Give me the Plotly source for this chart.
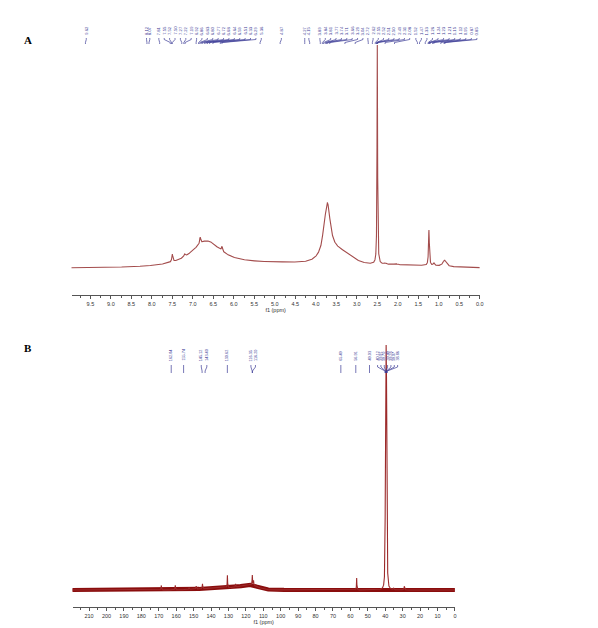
import numpy as np
import plotly.graph_objects as go

# ---------------- DATA ----------------
# Panel A (1H NMR) sharp peaks: position (ppm), height, half-width
A_SHARP_PPM = [7.50, 7.20, 6.82, 6.29, 3.81, 2.50, 2.31, 2.05, 1.24, 1.12, 0.86]
A_SHARP_H = [0.035, 0.012, 0.030, 0.020, 0.030, 0.990, 0.005, 0.005, 0.160, 0.012, 0.028]
A_SHARP_W = [0.015, 0.02, 0.015, 0.015, 0.02, 0.008, 0.03, 0.03, 0.012, 0.02, 0.05]
# Panel A broad Gaussian components: centre, height, sigma
A_BROAD_PPM = [4.8, 3.45, 2.0]
A_BROAD_H = [0.020, 0.055, 0.012]
A_BROAD_W = [1.3, 0.30, 1.0]
# Panel A broad Lorentzian components: centre, height, half-width
A_MAIN_PPM = [6.67, 3.72]
A_MAIN_H = [0.115, 0.235]
A_MAIN_W = [0.45, 0.09]

# Panel B (13C NMR)
B_SHARP_PPM = [168.5, 160.5, 152.6, 148.5, 144.9, 130.6, 125.9, 116.3, 115.6, 56.4, 35.2, 29.0]
B_SHARP_H = [0.027, 0.027, 0.010, 0.018, 0.030, 0.075, 0.020, 0.060, 0.030, 0.072, 0.008, 0.022]
B_SHARP_W = [0.15, 0.15, 0.2, 0.2, 0.15, 0.12, 0.15, 0.15, 0.15, 0.12, 0.2, 0.2]
B_DMSO_PPM = [40.12, 39.91, 39.70, 39.49, 39.28, 39.07, 38.86]
B_DMSO_H = [0.14, 0.42, 0.84, 0.98, 0.84, 0.42, 0.14]
B_DMSO_W = [0.12] * 7
B_BROAD_PPM = [118.0, 132.0]
B_BROAD_H = [0.016, 0.009]
B_BROAD_W = [4.5, 12.0]

# Peak labels (ppm values)
A_LABELS = [
    [9.62],
    [8.12, 8.07],
    [7.81, 7.55, 7.52, 7.50, 7.27, 7.22, 7.19, 6.92, 6.86, 6.83, 6.80, 6.77, 6.72, 6.68, 6.64, 6.59, 6.51, 6.33, 6.29, 5.36],
    [4.87],
    [4.27, 4.15],
    [3.89, 3.84, 3.81, 3.77, 3.74, 3.71, 3.66, 3.29, 3.04],
    [2.72, 2.62, 2.55, 2.52, 2.51, 2.50, 2.49, 2.31, 2.08],
    [1.52, 1.47, 1.33, 1.26, 1.24, 1.23, 1.21, 1.15, 1.12, 0.95, 0.87, 0.85],
]
B_LABELS = [
    [162.84],
    [155.74],
    [145.12, 143.40],
    [130.62],
    [116.35, 116.20],
    [65.49],
    [56.91],
    [49.03],
    [40.12, 39.91, 39.70, 39.49, 39.28, 39.07, 38.86],
]

A_TICKS = [9.5, 9.0, 8.5, 8.0, 7.5, 7.0, 6.5, 6.0, 5.5, 5.0, 4.5, 4.0, 3.5, 3.0, 2.5, 2.0, 1.5, 1.0, 0.5, 0.0]
B_TICKS = [210, 200, 190, 180, 170, 160, 150, 140, 130, 120, 110, 100, 90, 80, 70, 60, 50, 40, 30, 20, 10, 0]

# ---------------- LAYOUT ----------------
W, H = 598, 628
A_LABEL_SPANS = [(9.60, 9.60), (8.13, 8.05), (7.83, 5.33), (4.84, 4.84), (4.27, 4.17),
                 (3.90, 2.85), (2.73, 1.71), (1.56, 0.07)]
B_LABEL_SPANS = [(162.84, 162.84), (155.74, 155.74), (145.6, 142.4), (130.62, 130.62),
                 (117.1, 114.5), (65.49, 65.49), (56.91, 56.91), (49.03, 49.03), (44.4, 32.9)]


def lor(x, c, h, w):
    return h / (1 + ((x - c) / w) ** 2)


def gau(x, c, h, s):
    return h * np.exp(-0.5 * ((x - c) / s) ** 2)


xa = np.linspace(10, 0, 8001)
ya = np.zeros_like(xa)
for c, h, w in zip(A_BROAD_PPM, A_BROAD_H, A_BROAD_W):
    ya += gau(xa, c, h, w)
for c, h, w in zip(A_MAIN_PPM, A_MAIN_H, A_MAIN_W):
    ya += lor(xa, c, h, w)
for c, h, w in zip(A_SHARP_PPM, A_SHARP_H, A_SHARP_W):
    ya += lor(xa, c, h, w)

xb = np.linspace(220, 0, 22001)
yb_bg = np.zeros_like(xb)
for c, h, w in zip(B_BROAD_PPM, B_BROAD_H, B_BROAD_W):
    yb_bg += gau(xb, c, h, w)
yb = yb_bg.copy()
for c, h, w in zip(B_SHARP_PPM + B_DMSO_PPM, B_SHARP_H + B_DMSO_H, B_SHARP_W + B_DMSO_W):
    yb += lor(xb, c, h, w)
yb = yb_bg + (yb - yb_bg) * (0.98 / (yb - yb_bg).max())

fig = go.Figure()
fig.add_trace(go.Scatter(x=xa, y=ya, mode="lines", line=dict(color="#a34c4c", width=1.1),
                         xaxis="x", yaxis="y", hoverinfo="skip", showlegend=False))
fig.add_trace(go.Scatter(x=xb, y=yb_bg, mode="lines", line=dict(color="#8a0d0d", width=4.2),
                         xaxis="x2", yaxis="y2", hoverinfo="skip", showlegend=False))
fig.add_trace(go.Scatter(x=xb, y=yb, mode="lines", line=dict(color="#9c2a2a", width=1.1),
                         xaxis="x2", yaxis="y2", hoverinfo="skip", showlegend=False))


def py(ypx):
    return 1 - ypx / H


axis_common = dict(showline=True, linecolor="#555", linewidth=1, ticks="outside", ticklen=3,
                   tickcolor="#555", tickwidth=0.8, showgrid=False, zeroline=False,
                   tickfont=dict(size=5.5, color="#333", family="Liberation Sans"),
                   title_font=dict(size=5.5, color="#333", family="Liberation Sans"),
                   title_standoff=1, fixedrange=True)

fig.update_layout(
    width=W, height=H, margin=dict(l=0, r=0, t=0, b=0),
    paper_bgcolor="white", plot_bgcolor="white",
    xaxis=dict(domain=[72 / W, 483 / W], range=[9.96, 0], anchor="y",
               tickvals=A_TICKS, ticktext=[f"{v:.1f}" for v in A_TICKS],
               minor=dict(tickvals=[v - 0.25 for v in A_TICKS] + [9.75], ticks="outside", ticklen=2, tickcolor="#555"),
               title_text="f1 (ppm)", **axis_common),
    yaxis=dict(domain=[py(295), py(45)], range=[-0.12, 1.0], visible=False, fixedrange=True),
    xaxis2=dict(domain=[73 / W, 458 / W], range=[219.5, 0], anchor="y2",
                tickvals=B_TICKS, ticktext=[str(v) for v in B_TICKS],
                minor=dict(tickvals=[v + 5 for v in B_TICKS], ticks="outside", ticklen=2, tickcolor="#555"),
                title_text="f1 (ppm)", **axis_common),
    yaxis2=dict(domain=[py(607), py(340)], range=[-0.068, 1.0], visible=False, fixedrange=True),
)

annotations = []
shapes = []
LBL_COLOR = "#3c3c96"


def add_labels(groups, spans, xref, text_bottom, c1, c2, c3, fsize, fmt):
    for vals, (s, e) in zip(groups, spans):
        n = len(vals)
        pos = [s] if n == 1 else list(np.linspace(s, e, n))
        for v, p in zip(vals, pos):
            annotations.append(dict(x=p, y=py(text_bottom), xref=xref, yref="paper",
                                    text=fmt.format(v), textangle=-90, showarrow=False,
                                    xanchor="center", yanchor="bottom",
                                    font=dict(size=fsize, color=LBL_COLOR, family="Liberation Sans")))
            path = f"M {p},{py(c1[0])} L {p},{py(c1[1])} L {v},{py(c2)} L {v},{py(c3)}"
            shapes.append(dict(type="path", path=path, xref=xref, yref="paper",
                               line=dict(color=LBL_COLOR, width=0.7)))


add_labels(A_LABELS, A_LABEL_SPANS, "x", 37, (38, 39.5), 42.5, 44, 4.2, "{:.2f}")
add_labels(B_LABELS, B_LABEL_SPANS, "x2", 363, (365, 367), 371, 373, 3.8, "{:.2f}")

annotations.append(dict(x=22 / W, y=py(40), xref="paper", yref="paper", text="<b>A</b>",
                        showarrow=False, xanchor="left", yanchor="middle",
                        font=dict(size=11, color="black", family="Liberation Serif")))
annotations.append(dict(x=22 / W, y=py(348), xref="paper", yref="paper", text="<b>B</b>",
                        showarrow=False, xanchor="left", yanchor="middle",
                        font=dict(size=11, color="black", family="Liberation Serif")))

fig.update_layout(annotations=annotations, shapes=shapes)
fig.write_html("out.html", config={"displayModeBar": False},
               post_script="document.body.style.margin='0px';document.body.style.overflow='hidden';")
